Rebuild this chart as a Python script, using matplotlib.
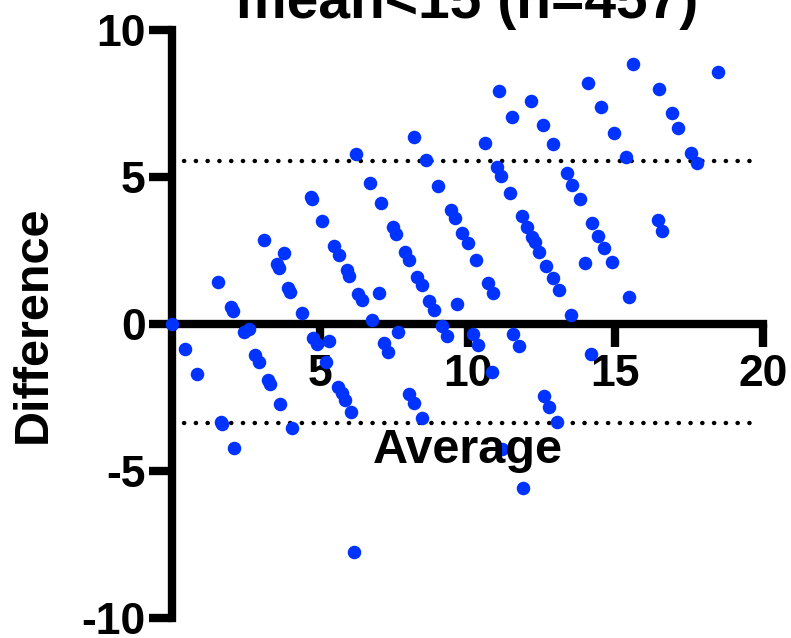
import matplotlib
matplotlib.use("Agg")
import matplotlib.pyplot as plt

# Bland-Altman data (average, difference)
average = [0.00, 0.44, 0.86, 1.57, 1.66, 1.70, 1.99, 2.07, 2.10, 2.44,
           2.61, 2.81, 2.94, 3.12, 3.26, 3.32, 3.54, 3.62, 3.65, 3.80,
           3.91, 3.99, 4.05, 4.39, 4.69, 4.73, 4.78, 4.90, 5.09, 5.20,
           5.31, 5.49, 5.65, 5.63, 5.74, 5.85, 5.91, 6.00, 6.05, 6.16,
           6.22, 6.30, 6.42, 6.70, 6.76, 7.00, 7.06, 7.17, 7.32, 7.47,
           7.57, 7.64, 7.88, 8.02, 8.03, 8.19, 8.19, 8.30, 8.45, 8.45,
           8.60, 8.70, 8.87, 9.01, 9.13, 9.30, 9.44, 9.58, 9.64, 9.82,
           10.01, 10.18, 10.29, 10.37, 10.58, 10.68, 10.82, 10.87, 11.01, 11.07,
           11.13, 11.18, 11.44, 11.52, 11.53, 11.74, 11.83, 11.89, 12.00, 12.14,
           12.19, 12.28, 12.43, 12.56, 12.59, 12.67, 12.77, 12.88, 12.88, 13.02,
           13.10, 13.38, 13.50, 13.55, 13.81, 13.98, 14.09, 14.17, 14.20, 14.43,
           14.51, 14.63, 14.88, 14.96, 15.35, 15.47, 15.61, 16.44, 16.49, 16.59,
           16.91, 17.13, 17.56, 17.76, 18.47]
difference = [0.00, -0.86, -1.70, 1.44, -3.32, -3.40, 0.59, 0.44, -4.21, -0.26,
              -0.18, -1.05, -1.28, 2.86, -1.90, -2.04, 2.03, 1.89, -2.73, 2.40,
              1.21, 1.08, -3.55, 0.36, 4.31, 4.24, -0.47, -0.68, 3.51, -1.28,
              -0.58, 2.65, 2.35, -2.13, -2.36, -2.59, 1.84, 1.64, -2.98, -7.77,
              5.78, 1.02, 0.82, 4.79, 0.14, 1.04, 4.10, -0.66, -0.96, 3.31,
              3.06, -0.27, 2.46, 2.18, -2.39, -2.70, 6.37, 1.61, 1.32, -3.21,
              5.58, 0.79, 0.48, 4.71, -0.07, -0.41, 3.88, 3.62, 0.69, 3.08,
              2.77, -0.35, 2.18, -0.71, 6.17, 1.38, -1.62, 1.04, 5.33, 7.93,
              5.03, -4.25, 4.44, 7.03, -0.34, -0.75, 3.67, -5.59, 3.31, 7.60,
              2.95, 2.80, 2.44, 6.77, -2.45, 1.97, -2.83, 6.12, 1.55, -3.32,
              1.16, 5.12, 0.31, 4.73, 4.24, 2.09, 8.21, -1.03, 3.42, 3.00,
              7.39, 2.57, 2.12, 6.51, 5.69, 0.91, 8.83, 3.54, 7.99, 3.17,
              7.17, 6.68, 5.83, 5.49, 8.56]

# 95% limits of agreement and their drawn x-range
loa_upper = 5.55
loa_lower = -3.36
loa_x = [0.4, 19.7]

xticks = [5, 10, 15, 20]
yticks = [-10, -5, 0, 5, 10]

plt.rcParams["font.family"] = ["Liberation Sans", "DejaVu Sans"]
plt.rcParams["font.weight"] = "bold"
plt.rcParams["axes.unicode_minus"] = False

fig = plt.figure(figsize=(7.91, 6.38), dpi=100)
ax = fig.add_axes([172 / 791, 20 / 638, 591 / 791, 588 / 638])

# limits of agreement
for y in (loa_upper, loa_lower):
    ax.plot(loa_x, [y, y], color="black", lw=3.2,
            linestyle=(0, (0.05, 2.6)), dash_capstyle="round", zorder=2)

ax.scatter(average, difference, s=95, color="#0033ff", linewidths=0,
           zorder=4, clip_on=False)

ax.set_xlim(0, 20)
ax.set_ylim(-10, 10)
ax.set_xticks(xticks)
ax.set_yticks(yticks)

for side in ("top", "right"):
    ax.spines[side].set_visible(False)
ax.spines["bottom"].set_position(("data", 0))
ax.spines["bottom"].set_bounds(0, 20)
ax.spines["left"].set_bounds(-10, 10)
for side in ("left", "bottom"):
    ax.spines[side].set_linewidth(6)

ax.tick_params(axis="both", direction="out", length=16.5, width=6,
               labelsize=32)
ax.tick_params(axis="x", pad=5)
ax.tick_params(axis="y", pad=2.5)
for lbl in ax.get_xticklabels() + ax.get_yticklabels():
    lbl.set_fontweight("bold")

ax.set_ylabel("Difference", fontsize=35, fontweight="bold", va="center")
ax.yaxis.set_label_coords(-0.235, 0.5)

ax.text(10, -4.73, "Average", fontsize=35, fontweight="bold",
        ha="center", va="baseline", zorder=5)

ax.set_title("mean<15 (n=457)", fontsize=41, fontweight="bold", pad=2)

fig.savefig("out.png", dpi=100)
